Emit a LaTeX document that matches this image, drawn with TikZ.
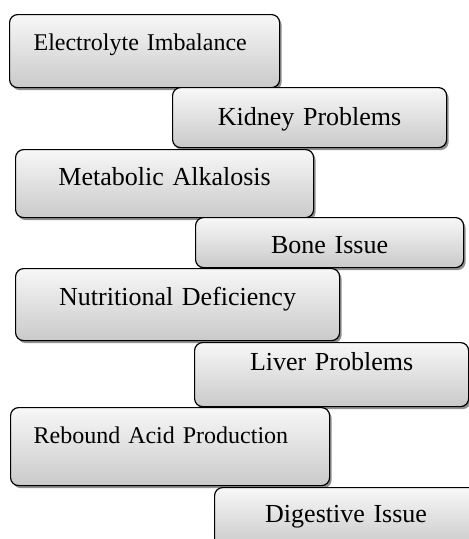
\documentclass[tikz,border=0pt]{standalone}
\usepackage{fontspec}
\setmainfont{Liberation Serif}
\usepackage{tikz}
\usetikzlibrary{shadows}

\begin{document}
\begin{tikzpicture}[x=1pt, y=-1pt,
    cause/.style={rectangle, draw=black, line width=1.2pt, rounded corners=8pt, anchor=north west,
        top color=gray!6, bottom color=gray!42, inner ysep=0pt,
        drop shadow={shadow xshift=2pt, shadow yshift=-2.5pt, fill=black!55, opacity=0.8},
        font=\fontsize{26}{30}\selectfont},
    leftcause/.style={cause, align=left, font=\fontsize{24}{28}\selectfont},
    midcause/.style={cause, align=center, inner xsep=0pt}
]
\useasboundingbox (0,0) rectangle (469,539);

\node[leftcause, inner xsep=24pt, text width=222pt, text height=36pt, text depth=37pt] (electrolyte) at (9,14) {Electrolyte Imbalance};
\node[midcause, text width=274pt, text height=38pt, text depth=22pt] (kidney) at (172,87) {Kidney Problems};
\node[midcause, text width=298pt, text height=36pt, text depth=32pt] (alkalosis) at (15,149) {Metabolic Alkalosis};
\node[midcause, text width=268pt, text height=36pt, text depth=14pt] (bone) at (195,217) {Bone Issue};
\node[midcause, text width=324pt, text height=37pt, text depth=35pt] (nutrition) at (15,268) {Nutritional Deficiency};
\node[midcause, text width=274pt, text height=28pt, text depth=36pt] (liver) at (194,342) {Liver Problems};
\node[leftcause, inner xsep=23pt, text width=273pt, text height=36pt, text depth=42pt] (rebound) at (10,407) {Rebound Acid Production};
\node[midcause, text width=263pt, text height=35pt, text depth=25pt] (digestive) at (214,487) {Digestive Issue};
\end{tikzpicture}
\end{document}
